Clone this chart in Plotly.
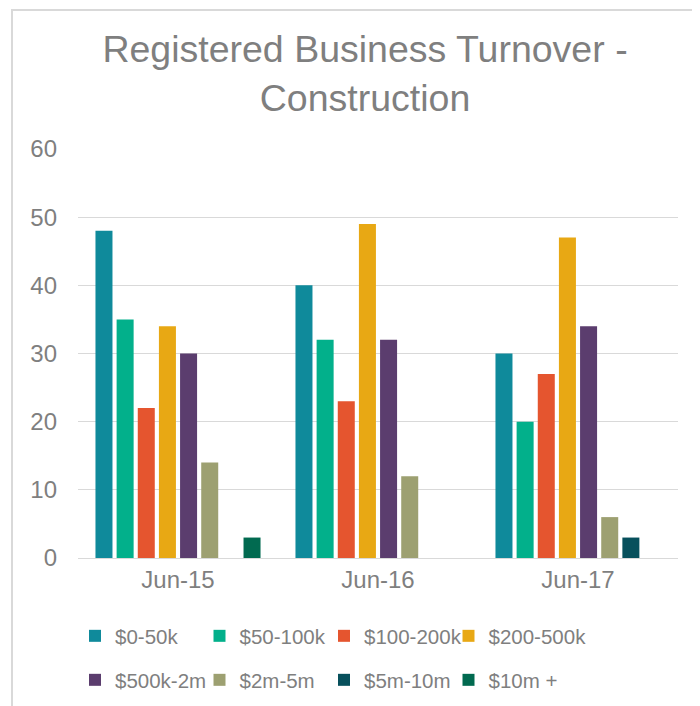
import plotly.graph_objects as go

categories = ["Jun-15", "Jun-16", "Jun-17"]
series_names = ["$0-50k", "$50-100k", "$100-200k", "$200-500k",
                "$500k-2m", "$2m-5m", "$5m-10m", "$10m +"]
v_0_50k = [48, 40, 30]
v_50_100k = [35, 32, 20]
v_100_200k = [22, 23, 27]
v_200_500k = [34, 49, 47]
v_500k_2m = [30, 32, 34]
v_2m_5m = [14, 12, 6]
v_5m_10m = [0, 0, 3]
v_10m_plus = [3, 0, 0]
series_values = [v_0_50k, v_50_100k, v_100_200k, v_200_500k,
                 v_500k_2m, v_2m_5m, v_5m_10m, v_10m_plus]
colors = ["#0f8a9b", "#02b08b", "#e5552f", "#e8a814",
          "#5b3d6e", "#9da071", "#07505c", "#016a50"]
y_ticks = [0, 10, 20, 30, 40, 50, 60]

# page body has an 8px margin: figure pixel = screen pixel - 8
OFF = 8
W, H = 700 - OFF, 706 - OFF
L, T = 78 - OFF, 149 - OFF
R = W - (678 - OFF)
B = H - (558 - OFF)
pw, ph = W - L - R, H - T - B

FONT = "Liberation Sans, Arial, sans-serif"
GRAY = "#7f7f7f"

fig = go.Figure()
for i, (name, vals, col) in enumerate(zip(series_names, series_values, colors)):
    fig.add_trace(go.Bar(x=categories, y=vals, name=name,
                         legend="legend" if i < 4 else "legend2",
                         legendwidth=130 if i in (3, 7) else 79.5,
                         marker=dict(color=col, line=dict(width=0))))

def px_x(p):
    return (p - L) / pw

def px_y(p):
    return (H - B - p) / ph

legend_common = dict(orientation="h", xanchor="left", yanchor="top",
                     entrywidthmode="pixels", itemwidth=30,
                     font=dict(size=20.5, color=GRAY, family=FONT),
                     bgcolor="rgba(0,0,0,0)", traceorder="normal")

fig.update_layout(
    width=W, height=H,
    margin=dict(l=L, r=R, t=T, b=B, autoexpand=False),
    paper_bgcolor="white", plot_bgcolor="white",
    barmode="group", bargap=0.154, bargroupgap=0.196,
    font=dict(family=FONT, color=GRAY, size=21),
    title=dict(text="Registered Business Turnover -<br>Construction",
               x=357 / W, xanchor="center", xref="container",
               y=1 - 54 / H, yanchor="top", yref="container",
               font=dict(family=FONT, size=37.5, color=GRAY)),
    xaxis=dict(showgrid=False, showline=True, linecolor="#d9d9d9", linewidth=1,
               ticks="", tickfont=dict(size=24, color=GRAY, family=FONT)),
    yaxis=dict(range=[0, 60], tickvals=y_ticks, showgrid=True, gridcolor="#d9d9d9",
               gridwidth=1, zeroline=False, showline=False, ticks="",
               ticklabelstandoff=20, tickfont=dict(size=24, color=GRAY, family=FONT)),
    legend=dict(x=px_x(67), y=px_y(608), **legend_common),
    legend2=dict(x=px_x(67), y=px_y(652), **legend_common),
    shapes=[dict(type="rect", xref="paper", yref="paper",
                 x0=px_x(4), x1=px_x(720), y0=px_y(730), y1=px_y(2),
                 line=dict(color="#d9d9d9", width=2), layer="below")],
)

fig.write_html("out.html")
